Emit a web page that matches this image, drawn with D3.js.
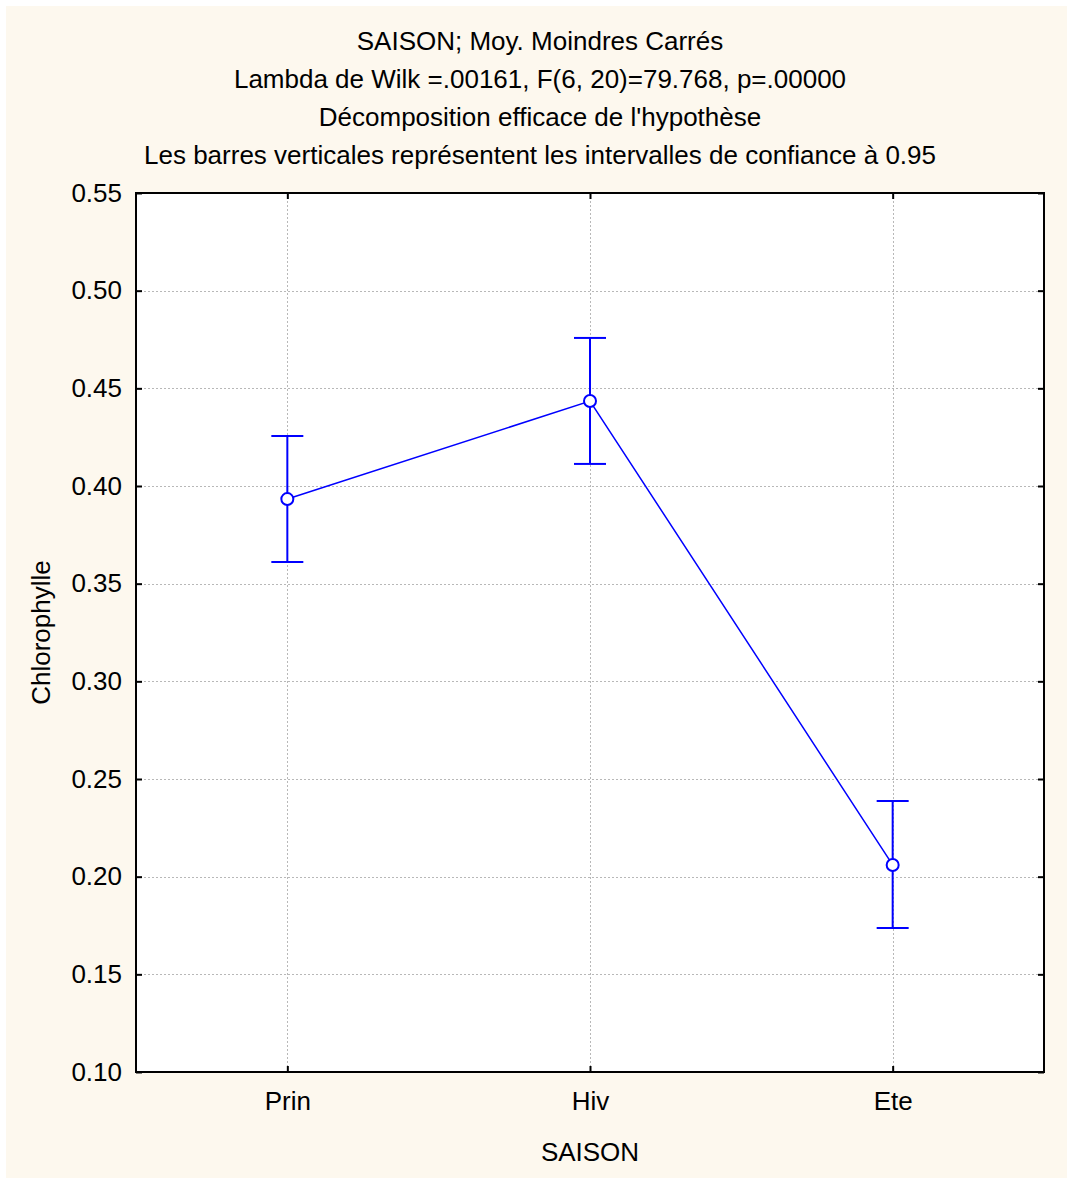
<!DOCTYPE html>
<html>
<head>
<meta charset="utf-8">
<script src="https://cdn.jsdelivr.net/npm/d3@7"></script>
<style>
  html, body { margin: 0; padding: 0; background: #ffffff; }
  svg { display: block; }
  text { font-family: "Liberation Sans", Arial, sans-serif; fill: #000; }
</style>
</head>
<body>
<svg id="chart" width="1067" height="1178"></svg>
<script>
// Least-squares means of chlorophyll by season, with 95% confidence limits
const categories = ["Prin", "Hiv", "Ete"];
const means      = [0.3933, 0.4435, 0.2060];
const upper      = [0.4256, 0.4758, 0.2387];
const lower      = [0.3611, 0.4113, 0.1737];
const yTicks     = [0.10, 0.15, 0.20, 0.25, 0.30, 0.35, 0.40, 0.45, 0.50, 0.55];

const titleLines = [
  "SAISON; Moy. Moindres Carrés",
  "Lambda de Wilk =.00161, F(6, 20)=79.768, p=.00000",
  "Décomposition efficace de l'hypothèse",
  "Les barres verticales représentent les intervalles de confiance à 0.95"
];

const W = 1067, H = 1178;
const plot = { left: 136, top: 193, right: 1044, bottom: 1072 };
const blue = "#0000ff";
const fs = 26;

const svg = d3.select("#chart");

// cream page background
svg.append("rect").attr("x", 6).attr("y", 6).attr("width", W - 6).attr("height", H - 6)
  .attr("fill", "#fdf8ee");

const x = d3.scalePoint().domain(categories).range([plot.left, plot.right]).padding(0.5);
const y = d3.scaleLinear().domain([0.10, 0.55]).range([plot.bottom, plot.top]);

// plot area
svg.append("rect")
  .attr("x", plot.left).attr("y", plot.top)
  .attr("width", plot.right - plot.left).attr("height", plot.bottom - plot.top)
  .attr("fill", "#ffffff");

// grid lines
const grid = svg.append("g").attr("stroke", "#b8b8b8").attr("stroke-width", 1)
  .attr("stroke-dasharray", "2,2");
grid.selectAll("line.h").data(yTicks.slice(1, -1)).join("line")
  .attr("x1", plot.left).attr("x2", plot.right)
  .attr("y1", d => Math.round(y(d)) + 0.5).attr("y2", d => Math.round(y(d)) + 0.5);
grid.selectAll("line.v").data(categories).join("line")
  .attr("y1", plot.top).attr("y2", plot.bottom)
  .attr("x1", d => Math.round(x(d)) + 0.5).attr("x2", d => Math.round(x(d)) + 0.5);

// axes with inward ticks on all four sides
const fmt = d3.format(".2f");
function styleAxis(g) {
  g.select(".domain").remove();
  g.selectAll(".tick line").attr("stroke", "#000").attr("stroke-width", 2);
  g.selectAll(".tick text").attr("font-size", fs).attr("font-family", "Liberation Sans, Arial, sans-serif").attr("fill", "#000");
}
svg.append("g").attr("transform", `translate(${plot.left},0)`)
  .call(d3.axisLeft(y).tickValues(yTicks).tickFormat(fmt).tickSizeInner(-6).tickSizeOuter(0).tickPadding(14))
  .call(styleAxis);
svg.append("g").attr("transform", `translate(${plot.right},0)`)
  .call(d3.axisRight(y).tickValues(yTicks).tickFormat("").tickSizeInner(-6).tickSizeOuter(0))
  .call(styleAxis);
svg.append("g").attr("transform", `translate(0,${plot.bottom})`)
  .call(d3.axisBottom(x).tickSizeInner(-6).tickSizeOuter(0).tickPadding(20))
  .call(styleAxis);
svg.append("g").attr("transform", `translate(0,${plot.top})`)
  .call(d3.axisTop(x).tickFormat("").tickSizeInner(-6).tickSizeOuter(0))
  .call(styleAxis);

// frame
svg.append("rect")
  .attr("x", plot.left).attr("y", plot.top)
  .attr("width", plot.right - plot.left).attr("height", plot.bottom - plot.top)
  .attr("fill", "none").attr("stroke", "#000").attr("stroke-width", 2);

// titles
svg.append("g").selectAll("text").data(titleLines).join("text")
  .attr("x", 540).attr("y", (d, i) => 50 + i * 38)
  .attr("text-anchor", "middle").attr("font-size", fs).text(d => d);

// axis titles
svg.append("text").attr("x", 590).attr("y", 1161).attr("text-anchor", "middle")
  .attr("font-size", fs).text("SAISON");
svg.append("text").attr("transform", `translate(50,${(plot.top + plot.bottom) / 2}) rotate(-90)`)
  .attr("text-anchor", "middle").attr("font-size", fs).text("Chlorophylle");

// data
const rows = categories.map((c, i) => ({ c, m: means[i], lo: lower[i], hi: upper[i] }));
const marks = svg.append("g");

marks.append("path").datum(rows)
  .attr("fill", "none").attr("stroke", blue).attr("stroke-width", 1.5)
  .attr("d", d3.line().x(d => x(d.c)).y(d => y(d.m)));

const eb = marks.append("g").attr("stroke", blue).attr("stroke-width", 2).attr("fill", "none");
eb.selectAll("line.bar").data(rows).join("line")
  .attr("x1", d => x(d.c)).attr("x2", d => x(d.c))
  .attr("y1", d => y(d.lo)).attr("y2", d => y(d.hi));
eb.selectAll("line.capHi").data(rows).join("line")
  .attr("x1", d => x(d.c) - 16).attr("x2", d => x(d.c) + 16)
  .attr("y1", d => y(d.hi)).attr("y2", d => y(d.hi));
eb.selectAll("line.capLo").data(rows).join("line")
  .attr("x1", d => x(d.c) - 16).attr("x2", d => x(d.c) + 16)
  .attr("y1", d => y(d.lo)).attr("y2", d => y(d.lo));

marks.selectAll("circle").data(rows).join("circle")
  .attr("cx", d => x(d.c)).attr("cy", d => y(d.m)).attr("r", 6)
  .attr("fill", "#ffffff").attr("stroke", blue).attr("stroke-width", 2);
</script>
</body>
</html>
